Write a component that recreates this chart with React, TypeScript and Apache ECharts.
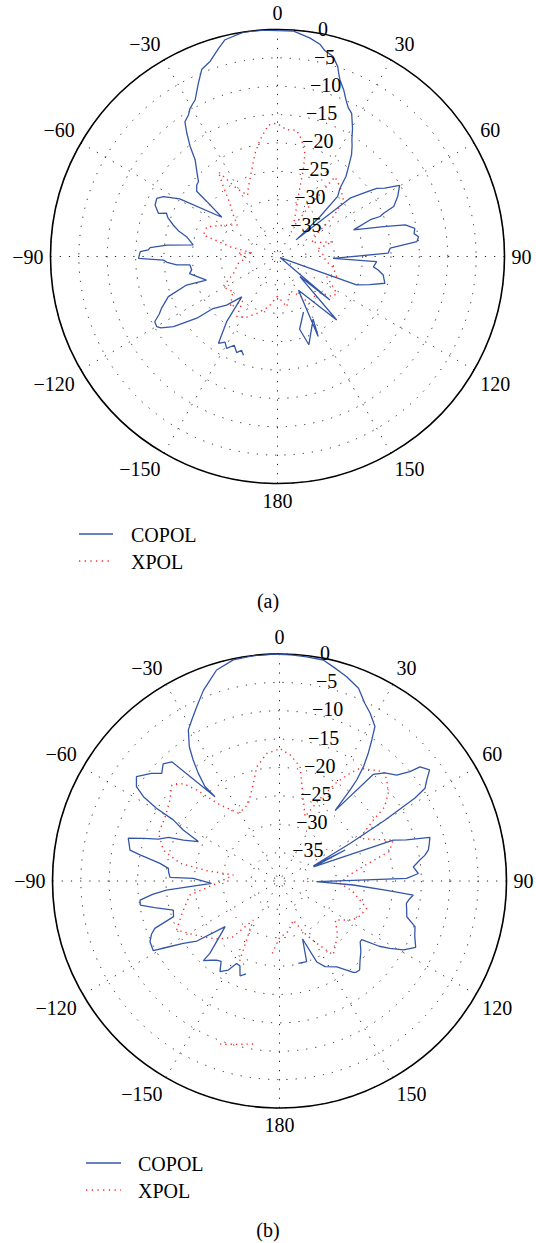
import React, { useEffect, useRef } from "react";
import * as echarts from "echarts";

// Radial tick values (dB) and series names
const radialTicks = [0, -5, -10, -15, -20, -25, -30, -35];
const seriesNames = ["COPOL", "XPOL"];
const captions = ["(a)", "(b)"];

// a break (gap) in a traced curve
const GAP: [number, number] = [NaN, NaN];

// Points: [angle in degrees (clockwise from top), gain in dB]
const copolA: [number, number][] = [
  [-161, -21.6], [-159, -22.3], [-157, -21.6],
  [-154, -22.6], [-151, -21.5], [-148.5, -22.3], [-145.8, -21.5], [-142, -25.5], [-138.5, -30.5],
  [-133.7, -27.6], [-128.9, -25.4], [-127.4, -22.1], [-124, -17.9], [-121.5, -15.9], [-120.1, -15.4],
  [-118, -15.5], [-116, -16.8], [-114.1, -17.6], [-110.2, -19.5], [-107.4, -23.2], [-108.4, -26.8],
  [-101, -24.2], [-98.9, -24.7], [-95.5, -24.5], [-94.8, -22.2], [-93, -20.5], [-91.8, -19.9],
  [-90.8, -15.5], [-88, -15.8], [-87.1, -17.2], [-86, -17.5], [-84.1, -20.4], [-82.2, -25],
  [-77.7, -23.6], [-75.5, -22], [-73.2, -20.8], [-70.5, -19.5], [-68.7, -19], [-70.1, -17.7],
  [-67.2, -16.6], [-64.3, -16.4], [-62.3, -17.3], [-59.5, -20], [-54.8, -28], [-52.1, -24.2],
  [-51.1, -21.7], [-48.5, -21], [-46.5, -20.8], [-43.6, -19.4], [-40.4, -17.6], [-38.4, -15.2],
  [-36.3, -13], [-34.5, -11.2], [-32.1, -10.5], [-30.6, -9.7], [-27.7, -8.8], [-24.5, -6.4],
  [-22, -4.4], [-19, -3.6], [-16, -2], [-13.6, -0.7], [-8.6, 0], [-4, 0], [0, -0.2], [4.1, -0.2],
  [8.5, -1.1], [11.4, -1.9], [13, -2.8], [15.5, -3.4], [17.6, -4.9], [18.5, -6], [19.5, -7],
  [21.8, -8.5], [23.5, -9.8], [25.5, -11], [27.4, -11.6], [30.3, -13.8], [32.5, -15.6], [34, -16.5],
  [36, -17.8], [38.3, -19.8], [40.5, -21.4], [42.5, -23.7], [45, -25], [46.8, -29.7], [47.7, -33],
  [48.2, -35.6], [51.2, -23.6], [53.6, -21.2], [55.5, -18.8], [57.5, -17.6], [59.8, -15.1],
  [63.4, -16.3], [66.7, -17.7], [67.8, -19.8], [68.7, -20.6], [68.4, -22.4], [70.7, -25.8],
  [74.3, -20.6], [76.1, -16.8], [78.4, -15.3], [80.5, -15.6], [82, -14.9], [83.9, -15.3],
  [85.8, -20.1], [88.3, -20.5], [91.9, -30.2], [93, -22.5], [96.2, -23], [97.6, -22.1],
  [99.9, -21.1], [104, -20.5], [107, -23], [109.8, -25.2], [112, -39.5], [129.6, -28],
  [131.9, -34.7], [137, -24.7], [148.1, -33], [153, -24.2], [150.4, -27.3], [160.4, -23.5],
  [163.1, -26.6], [154.9, -29.2],
];

const xpolA: [number, number][] = [
  [-180, -33], [-170, -31], [-160, -29.3], [-153, -28], [-146, -27.2], [-142, -30], [-137, -27.8],
  [-128, -30], [-119, -29], [-111, -31.7], [-100, -33], [-92, -34.5], [-85, -33], [-82.5, -35.7],
  [-78.3, -31.5], [-73.8, -26.4], [-67.2, -26.5], [-60, -29], [-52, -31], [-46, -29], [-41.8, -27.4],
  [-37.8, -24.4], [-34.9, -21.8], [-31, -26], [-26, -28], [-22.7, -26.7], [-16.6, -24.1],
  [-12.3, -21.4], [-8.5, -19.2], [-4, -16.8], [-0.4, -16.5], [4.1, -17.6], [8.6, -17.5],
  [11.7, -19], [14.9, -21.2], [16.6, -24.1], [17.9, -27.1], [21, -30.6], [28, -34.1], [32, -30],
  [35.8, -22.7], [42, -23.5], [49.4, -24.7], [54.5, -27.9], [60, -32], [68, -33.5], [75, -30],
  [80, -33], [88, -31.9], [95, -31.5], [101, -30], [108.8, -29], [112.3, -30.6], [121.9, -27.7],
  [126, -28], [133, -31], [144.5, -29.1], [150, -32], [160, -33.5], [169.6, -31], [180, -33],
];

const copolB: [number, number][] = [
  [-160.2, -22.6], [-157.4, -21.9], [-155, -23.5],
  [-152.5, -23.6], [-150.1, -21.9], [-146.7, -20.9], [-144, -22.5], [-141.5, -22.2], [-139, -21.5],
  [-136.3, -20.6], [-136.1, -22.3], [-130, -27.5], [-126, -22], [-122.9, -19.8], [-120.5, -17],
  [-118.9, -14.6], [-115.1, -14.8], [-112.5, -15.6], [-110.8, -16.5], [-108.6, -20.3],
  [-105.3, -20.6], [-102, -17.5], [-99.8, -15.1], [-97.8, -15.2], [-96, -17.5], [-94.6, -20],
  [-92, -28], [-88.2, -24.8], [-88.1, -20.7], [-85.5, -20.4], [-83.5, -20.3], [-81.6, -18.7],
  [-79.4, -15], [-78.3, -13.1], [-74.2, -12.3], [-72.5, -15], [-70.9, -17.4], [-68.5, -19],
  [-66.9, -21.6], [-64.1, -24.1], [-62.1, -20.8], [-60.1, -18.4], [-59.4, -14.8], [-58.2, -11.8],
  [-56.6, -9.8], [-53.9, -8.8], [-50, -10.5], [-47.6, -11.9], [-44.8, -10.9], [-42.1, -11.7],
  [-37.4, -21.3], [-38.3, -18.8], [-37, -16.2], [-35.5, -13.8], [-33.9, -11.5], [-31.1, -8.9],
  [-28.6, -7.7], [-25.4, -6], [-21.7, -3.8], [-19, -2.5], [-16.6, -1.2], [-11.8, -0.2], [-6.6, 0],
  [-1.6, 0], [3, -0.1], [6.9, -0.2], [11.2, -0.3], [14.1, -1.1], [18.2, -2.1], [22.3, -3.3],
  [25.7, -5.3], [28.4, -6.4], [31.7, -8], [33.2, -10.3], [34.8, -12.6], [36.3, -15], [37.4, -17.6],
  [37.8, -19.7], [38.3, -24.2], [41.3, -15], [44.2, -13.4], [47.9, -12.2], [50, -10], [50.9, -8.1],
  [53.5, -7.1], [55.5, -8.5], [57.5, -9.6], [58.5, -12], [60, -18.5], [62, -26], [66, -33.5],
  [64.7, -27.2], [67.5, -33.5], [70.2, -18.7], [72, -16.5], [73.8, -12.4], [76, -12.8],
  [78.2, -13.2], [80, -14], [81.5, -15], [84, -16.3], [86.9, -15.5], [88.8, -17.6], [89.5, -27],
  [91, -33.5], [93.1, -27], [95, -21], [96, -16.3], [98, -16.9], [100, -17.3], [103, -17],
  [105.7, -16.7], [108.6, -14.8], [112, -14.3], [116, -13.3], [119, -15], [121.4, -17.2],
  [123.2, -19], [125.5, -22.2], [127, -22.2], [131, -21], [134.5, -20.1], [138, -18.9], [140, -19],
  [141.1, -19.3], [146.3, -21.8], [152, -22.9], [155.3, -24.3], [158.3, -29], [161.4, -25],
  [167.1, -25.1],
];

const xpolB: [number, number][] = [
  [-180, -30], [-174, -27], GAP, [-170.8, -10.9], [-165, -10.2], [-158.9, -9.2], GAP,
  [-157, -24], [-153.4, -24.4],
  [-146, -31.7], [-140, -27], [-133, -25], [-125, -23], [-115.5, -19.9], [-108, -22], [-98.9, -24],
  [-92, -29], [-86, -31], [-82.6, -31.8], [-81.9, -27], [-79.9, -22.2], [-75.1, -18.8],
  [-68.5, -17.1], [-60.7, -16.9], [-53.5, -16], [-48.3, -14.6], [-44.6, -15.9], [-42.3, -18.3],
  [-38, -23], [-31.3, -26], [-26, -25.8], [-21.9, -25.3], [-15, -22.2], [-11.3, -19.5],
  [-5.7, -17.4], [-1.2, -16.9], [0, -16.6], [4.8, -17.7], [10.2, -19.5], [12.8, -22.3],
  [16.4, -25.1], [21.6, -27.8], [26, -24], [30, -20], [33.2, -17.3], [35.5, -15.6], [43.5, -13.4],
  [46.7, -14], [51.1, -15.4], [54.8, -17.3], [57, -20.3], [62, -24], [66, -22], [70.2, -18.7],
  [75, -20], [80, -25], [86, -28], [92.2, -29.3], [98, -27], [107.4, -23.9], [113, -24.5],
  [117.8, -25.3], [125, -28], [133, -26], [144, -23.9], [149.2, -27.2], [155, -30], [160.5, -32.7],
  [170, -31], [180, -30],
];

// layout
const R = 227;
const centers: [number, number][] = [[277.5, 256.5], [279.5, 881]];
const legendPos = [
  { x1: 79, x2: 113, tx: 131, y: [534, 561] },
  { x1: 86, x2: 121, tx: 138, y: [1163, 1190] },
];
const captionPos: [number, number][] = [[268, 601], [268, 1230]];

const FONT = "Liberation Serif, DejaVu Serif, serif";
const BLUE = "#3456a8";
const RED = "#ff2a2a";

const toPolar = (pts: [number, number][]) =>
  pts.map(([a, g]) =>
    Number.isNaN(g) ? ["-", "-"] : [g, ((a % 360) + 360) % 360]
  );

const fmtDb = (v: number) => (v === 0 ? "0" : "\u2212" + Math.abs(v));

export default function App() {
  const ref = useRef<HTMLDivElement>(null);
  useEffect(() => {
    if (!ref.current) return;
    const chart = echarts.init(ref.current, undefined, { renderer: "svg" });
    const dotted = { type: [1.2, 8] as any, color: "#222", width: 1 };

    const polar = centers.map((c) => ({ center: [c[0], c[1]], radius: R }));
    const angleAxis = centers.map((_, i) => ({
      polarIndex: i,
      type: "value",
      min: 0,
      max: 360,
      interval: 30,
      startAngle: 90,
      clockwise: true,
      axisLine: { show: true, lineStyle: { color: "#000", width: 1.6 } },
      axisTick: { show: false },
      splitLine: { show: true, lineStyle: dotted },
      axisLabel: {
        show: true,
        margin: 7,
        color: "#000",
        fontSize: 20,
        fontFamily: FONT,
        formatter: (v: number) =>
          v === 360 ? "" : v > 180 ? "\u2212" + (360 - v) : String(v),
      },
    }));
    const radiusAxis = centers.map((_, i) => ({
      polarIndex: i,
      type: "value",
      min: -40,
      max: 0,
      interval: 5,
      axisLine: { show: false },
      axisTick: { show: false },
      axisLabel: { show: false },
      splitLine: { show: true, lineStyle: dotted },
    }));

    const datasets = [
      [copolA, xpolA],
      [copolB, xpolB],
    ];
    const series: any[] = [];
    datasets.forEach((pair, i) => {
      series.push({
        type: "line",
        name: seriesNames[0],
        coordinateSystem: "polar",
        polarIndex: i,
        data: toPolar(pair[0]),
        symbol: "none",
        connectNulls: false,
        lineStyle: { color: BLUE, width: 1.3 },
        z: 4,
      });
      series.push({
        type: "line",
        name: seriesNames[1],
        coordinateSystem: "polar",
        polarIndex: i,
        data: toPolar(pair[1]),
        symbol: "none",
        connectNulls: false,
        lineStyle: { color: RED, width: 1.4, type: [1.3, 4] },
        z: 3,
      });
    });

    const textStyle = (text: string, align: string) => ({
      text,
      fill: "#000",
      fontSize: 20,
      fontFamily: FONT,
      align,
      verticalAlign: "middle",
      textAlign: align,
      textVerticalAlign: "middle",
    });

    const graphics: any[] = [];
    const s8 = Math.sin((8 * Math.PI) / 180);
    const c8 = Math.cos((8 * Math.PI) / 180);
    centers.forEach(([cx, cy], i) => {
      radialTicks.forEach((v) => {
        const r = (R * (v + 40)) / 40;
        graphics.push({
          type: "text",
          x: cx + r * s8 + 8.8,
          y: cy - r * c8 - 3,
          z: 10,
          style: textStyle(fmtDb(v), "left"),
        });
      });
      const lp = legendPos[i];
      seriesNames.forEach((name, k) => {
        graphics.push({
          type: "line",
          shape: { x1: lp.x1, y1: lp.y[k], x2: lp.x2, y2: lp.y[k] },
          style: {
            stroke: k === 0 ? BLUE : RED,
            lineWidth: k === 0 ? 1.5 : 1.4,
            lineDash: k === 0 ? null : [1.3, 4.4],
          },
        });
        graphics.push({
          type: "text",
          x: lp.tx,
          y: lp.y[k] + 1,
          style: textStyle(name, "left"),
        });
      });
      graphics.push({
        type: "text",
        x: captionPos[i][0],
        y: captionPos[i][1],
        style: textStyle(captions[i], "center"),
      });
    });

    chart.setOption({
      animation: false,
      backgroundColor: "#fff",
      polar,
      angleAxis,
      radiusAxis,
      series,
      graphic: graphics,
    });
    return () => chart.dispose();
  }, []);
  return (
    <div
      ref={ref}
      style={{ position: "absolute", left: 0, top: 0, width: 536, height: 1243 }}
    />
  );
}
